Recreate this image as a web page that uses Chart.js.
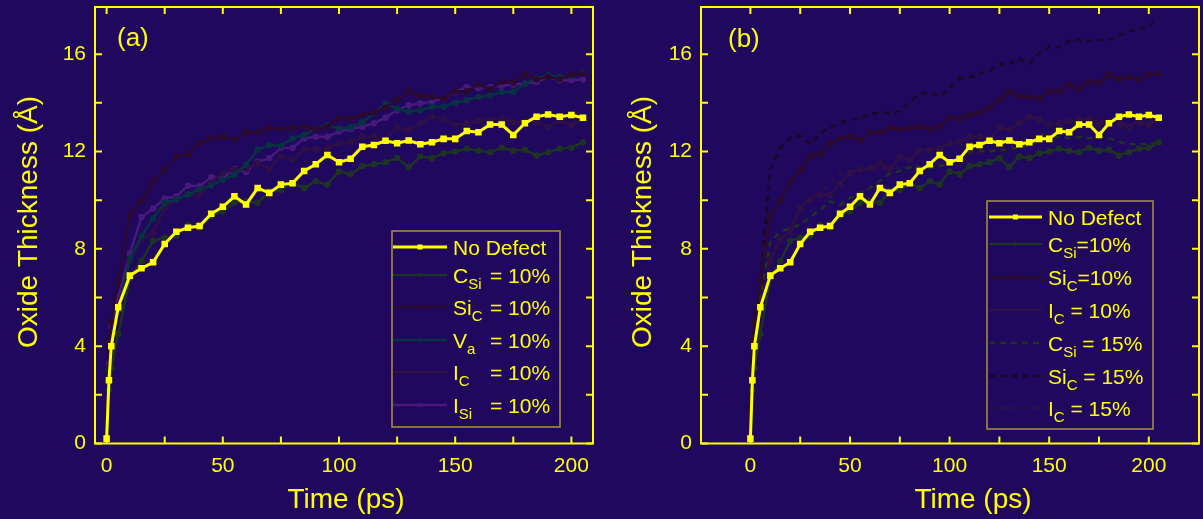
<!DOCTYPE html>
<html>
<head>
<meta charset="utf-8">
<script src="https://cdn.jsdelivr.net/npm/chart.js@4"></script>
<style>
    html, body { margin: 0; padding: 0; background: #1f085e; overflow: hidden; }
    #wrap { position: relative; width: 1203px; height: 519px; overflow: hidden; }
    canvas { position: absolute; top: 0; }
</style>
</head>
<body>
<div id="wrap">
    <canvas id="chartA" width="600" height="519" style="left:0"></canvas>
    <canvas id="chartB" width="606" height="519" style="left:600px"></canvas>
</div>
<script>
// time axis (ps)
const times = [0, 1, 2, 5, 10, 15, 20, 25, 30, 35, 40, 45, 50, 55, 60, 65, 70, 75, 80, 85, 90, 95,
    100, 105, 110, 115, 120, 125, 130, 135, 140, 145, 150, 155, 160, 165, 170, 175, 180, 185, 190, 195, 200, 205];

// oxide thickness (Å)
const noDefect = [0.2, 2.6, 4.0, 5.6, 6.9, 7.2, 7.45, 8.2, 8.7, 8.87, 8.94, 9.44, 9.73, 10.16, 9.82, 10.5, 10.3, 10.64, 10.7, 11.2, 11.48, 11.86,
    11.56, 11.7, 12.2, 12.27, 12.44, 12.34, 12.45, 12.3, 12.38, 12.52, 12.52, 12.84, 12.79, 13.11, 13.11, 12.68, 13.16, 13.43, 13.52, 13.43, 13.5, 13.39];
const cSi10 = [0, 2.2, 3.1, 4.5, 6.8, 7.5, 8.33, 8.46, 8.53, 8.98, 8.87, 9.35, 9.55, 9.89, 9.96, 9.89, 10.37, 10.43, 10.7, 10.5, 10.78, 10.64,
    11.18, 11.07, 11.39, 11.48, 11.56, 11.73, 11.36, 11.8, 11.73, 11.93, 12.0, 12.11, 12.03, 11.97, 12.16, 12.03, 12.07, 11.84, 11.97, 12.11, 12.16, 12.38];
const siC10 = [0, 4.2, 5.0, 6.7, 9.4, 9.99, 10.75, 11.25, 11.8, 11.89, 12.34, 12.54, 12.61, 12.48, 12.79, 12.79, 12.98, 12.93, 12.98, 13.02, 12.93, 13.02,
    13.39, 13.36, 13.5, 13.6, 13.8, 14.13, 14.47, 14.28, 14.25, 14.18, 14.48, 14.48, 14.75, 14.56, 14.88, 14.83, 15.16, 14.97, 15.06, 14.97, 15.17, 15.2];
const vA10 = [0, 3.0, 4.3, 5.5, 7.6, 8.53, 9.25, 9.89, 10.03, 10.23, 10.45, 10.6, 10.84, 11.05, 11.46, 12.07, 12.27, 12.24, 12.54, 12.68, 12.93, 13.09,
    12.95, 13.0, 13.2, 13.56, 13.97, 13.77, 13.63, 13.7, 13.84, 13.84, 14.0, 14.11, 14.24, 14.3, 14.45, 14.45, 14.79, 15.0, 15.13, 15.06, 15.1, 15.24];
const iC10 = [0, 3.1, 4.5, 5.6, 7.5, 8.4, 8.67, 9.69, 10.03, 10.23, 10.2, 10.7, 11.12, 11.25, 11.29, 11.52, 11.29, 11.8, 11.66, 12.07, 12.07, 12.14,
    12.34, 12.4, 12.6, 12.61, 12.5, 13.0, 12.88, 13.16, 13.43, 13.33, 13.11, 13.16, 13.25, 13.33, 13.36, 13.2, 13.25, 13.2, 13.02, 13.29, 13.09, 13.36];
const iSi10 = [0, 3.3, 4.8, 6.0, 7.8, 9.3, 9.66, 10.07, 10.16, 10.6, 10.57, 10.94, 10.91, 11.29, 11.16, 11.59, 11.73, 12.14, 12.16, 12.54, 12.61, 12.61,
    12.82, 12.93, 13.02, 13.16, 13.39, 13.7, 13.9, 13.97, 14.05, 14.18, 14.45, 14.65, 14.6, 14.65, 14.7, 14.75, 14.8, 14.86, 15.06, 14.93, 14.93, 14.97];
const cSi15 = [0, 2.8, 4.0, 6.0, 8.3, 8.7, 8.85, 9.0, 9.3, 9.6, 9.95, 9.8, 10.1, 10.3, 10.5, 10.8, 11.1, 11.2, 11.35, 11.35, 11.3, 11.4,
    11.5, 11.75, 12.0, 12.05, 12.0, 12.05, 12.1, 12.15, 12.3, 12.45, 12.55, 12.6, 12.55, 12.6, 12.55, 12.6, 12.55, 12.4, 12.3, 12.3, 12.3, 12.4];
const siC15 = [0, 3.0, 4.2, 6.6, 11.3, 12.15, 12.55, 12.65, 12.3, 12.75, 12.98, 13.2, 13.29, 13.39, 13.56, 13.56, 13.6, 13.66, 14.04, 14.38, 14.38, 14.29,
    14.58, 15.0, 15.06, 15.2, 15.33, 15.6, 15.6, 15.81, 15.6, 16.05, 16.3, 16.29, 16.56, 16.6, 16.55, 16.6, 16.6, 16.75, 16.95, 17.05, 17.15, 17.5];
const iC15 = [0, 3.0, 4.3, 6.2, 7.8, 8.3, 8.9, 9.6, 10.1, 10.3, 10.7, 11.1, 11.2, 11.25, 11.3, 11.35, 11.3, 11.35, 11.35, 11.4, 11.5, 11.5,
    11.6, 11.8, 11.9, 11.95, 12.05, 12.1, 12.2, 12.4, 12.6, 12.7, 12.75, 12.8, 12.9, 12.95, 13.0, 13.05, 13.1, 13.05, 12.95, 13.1, 13.2, 13.3];

// ticks
const xTickVals = [0, 25, 50, 75, 100, 125, 150, 175, 200];
const yTickVals = [0, 2, 4, 6, 8, 10, 12, 14, 16];

// legend texts: [main, subscript, rest]
const labelsA = [["No Defect", "", ""], ["C", "Si", " = 10%"], ["Si", "C", " = 10%"], ["V", "a", " = 10%"], ["I", "C", " = 10%"], ["I", "Si", " = 10%"]];
const labelsB = [["No Defect", "", ""], ["C", "Si", "=10%"], ["Si", "C", "=10%"], ["I", "C", " = 10%"], ["C", "Si", " = 15%"], ["Si", "C", " = 15%"], ["I", "C", " = 15%"]];

const YELLOW = "#ffff00";
const FONT = "'Liberation Sans', Arial, sans-serif";

function pts(vals) {
    return times.map((t, i) => ({ x: t, y: vals[i] }));
}

function series(parts, vals, color, opts = {}) {
    return Object.assign({
        label: parts.join(""),
        parts: parts,
        data: pts(vals),
        borderColor: color,
        backgroundColor: color,
        pointBackgroundColor: color,
        pointBorderColor: color,
        borderWidth: 2.5,
        pointRadius: 2,
        pointStyle: "circle",
        tension: 0,
    }, opts);
}

// frame with inward ticks, axis titles, panel tag
const framePlugin = {
    id: "frame",
    afterDatasetsDraw(chart, args, opts) {
        const { ctx, chartArea: a, scales: { x, y } } = chart;
        ctx.save();
        ctx.strokeStyle = YELLOW;
        ctx.lineWidth = 2;
        ctx.strokeRect(a.left, a.top, a.right - a.left, a.bottom - a.top);
        ctx.beginPath();
        x.ticks.forEach((t) => {
            const px = x.getPixelForValue(t.value);
            ctx.moveTo(px, a.bottom); ctx.lineTo(px, a.bottom - 7);
            ctx.moveTo(px, a.top); ctx.lineTo(px, a.top + 7);
        });
        y.ticks.forEach((t) => {
            const py = y.getPixelForValue(t.value);
            ctx.moveTo(a.left, py); ctx.lineTo(a.left + 7, py);
            ctx.moveTo(a.right, py); ctx.lineTo(a.right - 7, py);
        });
        ctx.stroke();

        ctx.fillStyle = YELLOW;
        ctx.font = "28px " + FONT;
        ctx.textAlign = "center";
        ctx.textBaseline = "alphabetic";
        ctx.fillText("Time (ps)", opts.xTitle[0], opts.xTitle[1]);
        ctx.save();
        ctx.translate(opts.yTitle[0], opts.yTitle[1]);
        ctx.rotate(-Math.PI / 2);
        ctx.fillText("Oxide Thickness (Å)", 0, 0);
        ctx.restore();

        ctx.font = "26px " + FONT;
        ctx.textAlign = "left";
        ctx.fillText(opts.tag, opts.tagPos[0], opts.tagPos[1]);
        ctx.restore();
    },
};

// boxed legend with subscripts
const boxLegend = {
    id: "boxLegend",
    afterDraw(chart, args, opts) {
        const { ctx } = chart;
        const b = opts.box;
        ctx.save();
        ctx.strokeStyle = "#a8943c";
        ctx.lineWidth = 1.5;
        ctx.strokeRect(b[0], b[1], b[2] - b[0], b[3] - b[1]);
        chart.data.datasets.forEach((ds, i) => {
            const ry = opts.rows[i];
            ctx.strokeStyle = ds.borderColor;
            ctx.lineWidth = ds.borderWidth;
            ctx.setLineDash(ds.borderDash || []);
            ctx.beginPath();
            ctx.moveTo(opts.lineX[0], ry);
            ctx.lineTo(opts.lineX[1], ry);
            ctx.stroke();
            ctx.setLineDash([]);
            if (ds.pointRadius > 0) {
                const mx = (opts.lineX[0] + opts.lineX[1]) / 2;
                const r = ds.pointRadius;
                ctx.fillStyle = ds.pointBackgroundColor;
                if (ds.pointStyle === "rect") {
                    ctx.fillRect(mx - r, ry - r, 2 * r, 2 * r);
                } else {
                    ctx.beginPath();
                    ctx.arc(mx, ry, r, 0, Math.PI * 2);
                    ctx.fill();
                }
            }
            const [main, sub, rest] = ds.parts;
            const base = ry + 7.5;
            ctx.fillStyle = YELLOW;
            ctx.textBaseline = "alphabetic";
            ctx.textAlign = "left";
            ctx.font = "21px " + FONT;
            let tx = opts.textX;
            ctx.fillText(main, tx, base);
            tx += ctx.measureText(main).width;
            if (sub) {
                ctx.font = "15px " + FONT;
                ctx.fillText(sub, tx, base + 6);
                tx += ctx.measureText(sub).width;
            }
            if (rest) {
                ctx.font = "21px " + FONT;
                if (opts.restX) {
                    ctx.fillText(rest.trim(), opts.restX, base);
                } else {
                    ctx.fillText(rest, tx, base);
                }
            }
        });
        ctx.restore();
    },
};

function scales(xMin, xMax, yWidth) {
    return {
        x: {
            type: "linear",
            min: xMin,
            max: xMax,
            afterBuildTicks: (s) => { s.ticks = xTickVals.map((v) => ({ value: v })); },
            afterFit: (s) => {
                s.height = 75.5;
                s.paddingLeft = 0;
                s.paddingRight = 0;
            },
            grid: { display: false, drawTicks: false },
            border: { display: false },
            ticks: {
                color: YELLOW,
                font: { family: FONT, size: 21 },
                padding: 10,
                autoSkip: false,
                maxRotation: 0,
                callback: (v) => (v % 50 === 0 ? v : ""),
            },
        },
        y: {
            min: 0,
            max: 17.94,
            afterBuildTicks: (s) => { s.ticks = yTickVals.map((v) => ({ value: v })); },
            afterFit: (s) => {
                s.width = yWidth;
                s.paddingTop = 0;
                s.paddingBottom = 0;
            },
            grid: { display: false, drawTicks: false },
            border: { display: false },
            ticks: {
                color: YELLOW,
                font: { family: FONT, size: 21 },
                padding: 9,
                autoSkip: false,
                callback: (v) => (v % 4 === 0 ? v : ""),
            },
        },
    };
}

const noDefectStyle = { borderWidth: 3, pointRadius: 2.5, pointStyle: "rect" };

const chartA = new Chart(document.getElementById("chartA"), {
    type: "line",
    data: {
        datasets: [
            series(labelsA[0], noDefect, YELLOW, noDefectStyle),
            series(labelsA[1], cSi10, "#1d3324"),
            series(labelsA[2], siC10, "#2c0a2e"),
            series(labelsA[3], vA10, "#073242"),
            series(labelsA[4], iC10, "#2f1046"),
            series(labelsA[5], iSi10, "#47197a"),
        ],
    },
    options: {
        responsive: false,
        animation: false,
        layout: { padding: { top: 4, right: 5, left: 0, bottom: 0 } },
        scales: scales(-5, 209.3, 95),
        plugins: {
            legend: { display: false },
            tooltip: { enabled: false },
            frame: { xTitle: [346, 508], yTitle: [37, 222], tag: "(a)", tagPos: [117, 46] },
            boxLegend: {
                box: [392, 231, 560, 427],
                rows: [247, 275, 307, 340, 372, 405],
                lineX: [393, 447],
                textX: 453,
                restX: 490,
            },
        },
    },
    plugins: [framePlugin, boxLegend],
});

const chartB = new Chart(document.getElementById("chartB"), {
    type: "line",
    data: {
        datasets: [
            series(labelsB[0], noDefect, YELLOW, noDefectStyle),
            series(labelsB[1], cSi10, "#1d3324"),
            series(labelsB[2], siC10, "#2c0a2e"),
            series(labelsB[3], iC10, "#2f1046"),
            series(labelsB[4], cSi15, "#1d3324", { pointRadius: 0, borderDash: [6, 5] }),
            series(labelsB[5], siC15, "#1f0724", { pointRadius: 0, borderDash: [6, 5] }),
            series(labelsB[6], iC15, "#2f1046", { pointRadius: 0, borderDash: [6, 5] }),
        ],
    },
    options: {
        responsive: false,
        animation: false,
        layout: { padding: { top: 4, right: 2, left: 0, bottom: 0 } },
        scales: scales(-24.8, 225.2, 101),
        plugins: {
            legend: { display: false },
            tooltip: { enabled: false },
            frame: { xTitle: [373, 508], yTitle: [51, 222], tag: "(b)", tagPos: [128, 47] },
            boxLegend: {
                box: [387, 201, 553, 429],
                rows: [217, 244, 277, 310, 343, 376, 408],
                lineX: [389, 442],
                textX: 448,
            },
        },
    },
    plugins: [framePlugin, boxLegend],
});
</script>
</body>
</html>
